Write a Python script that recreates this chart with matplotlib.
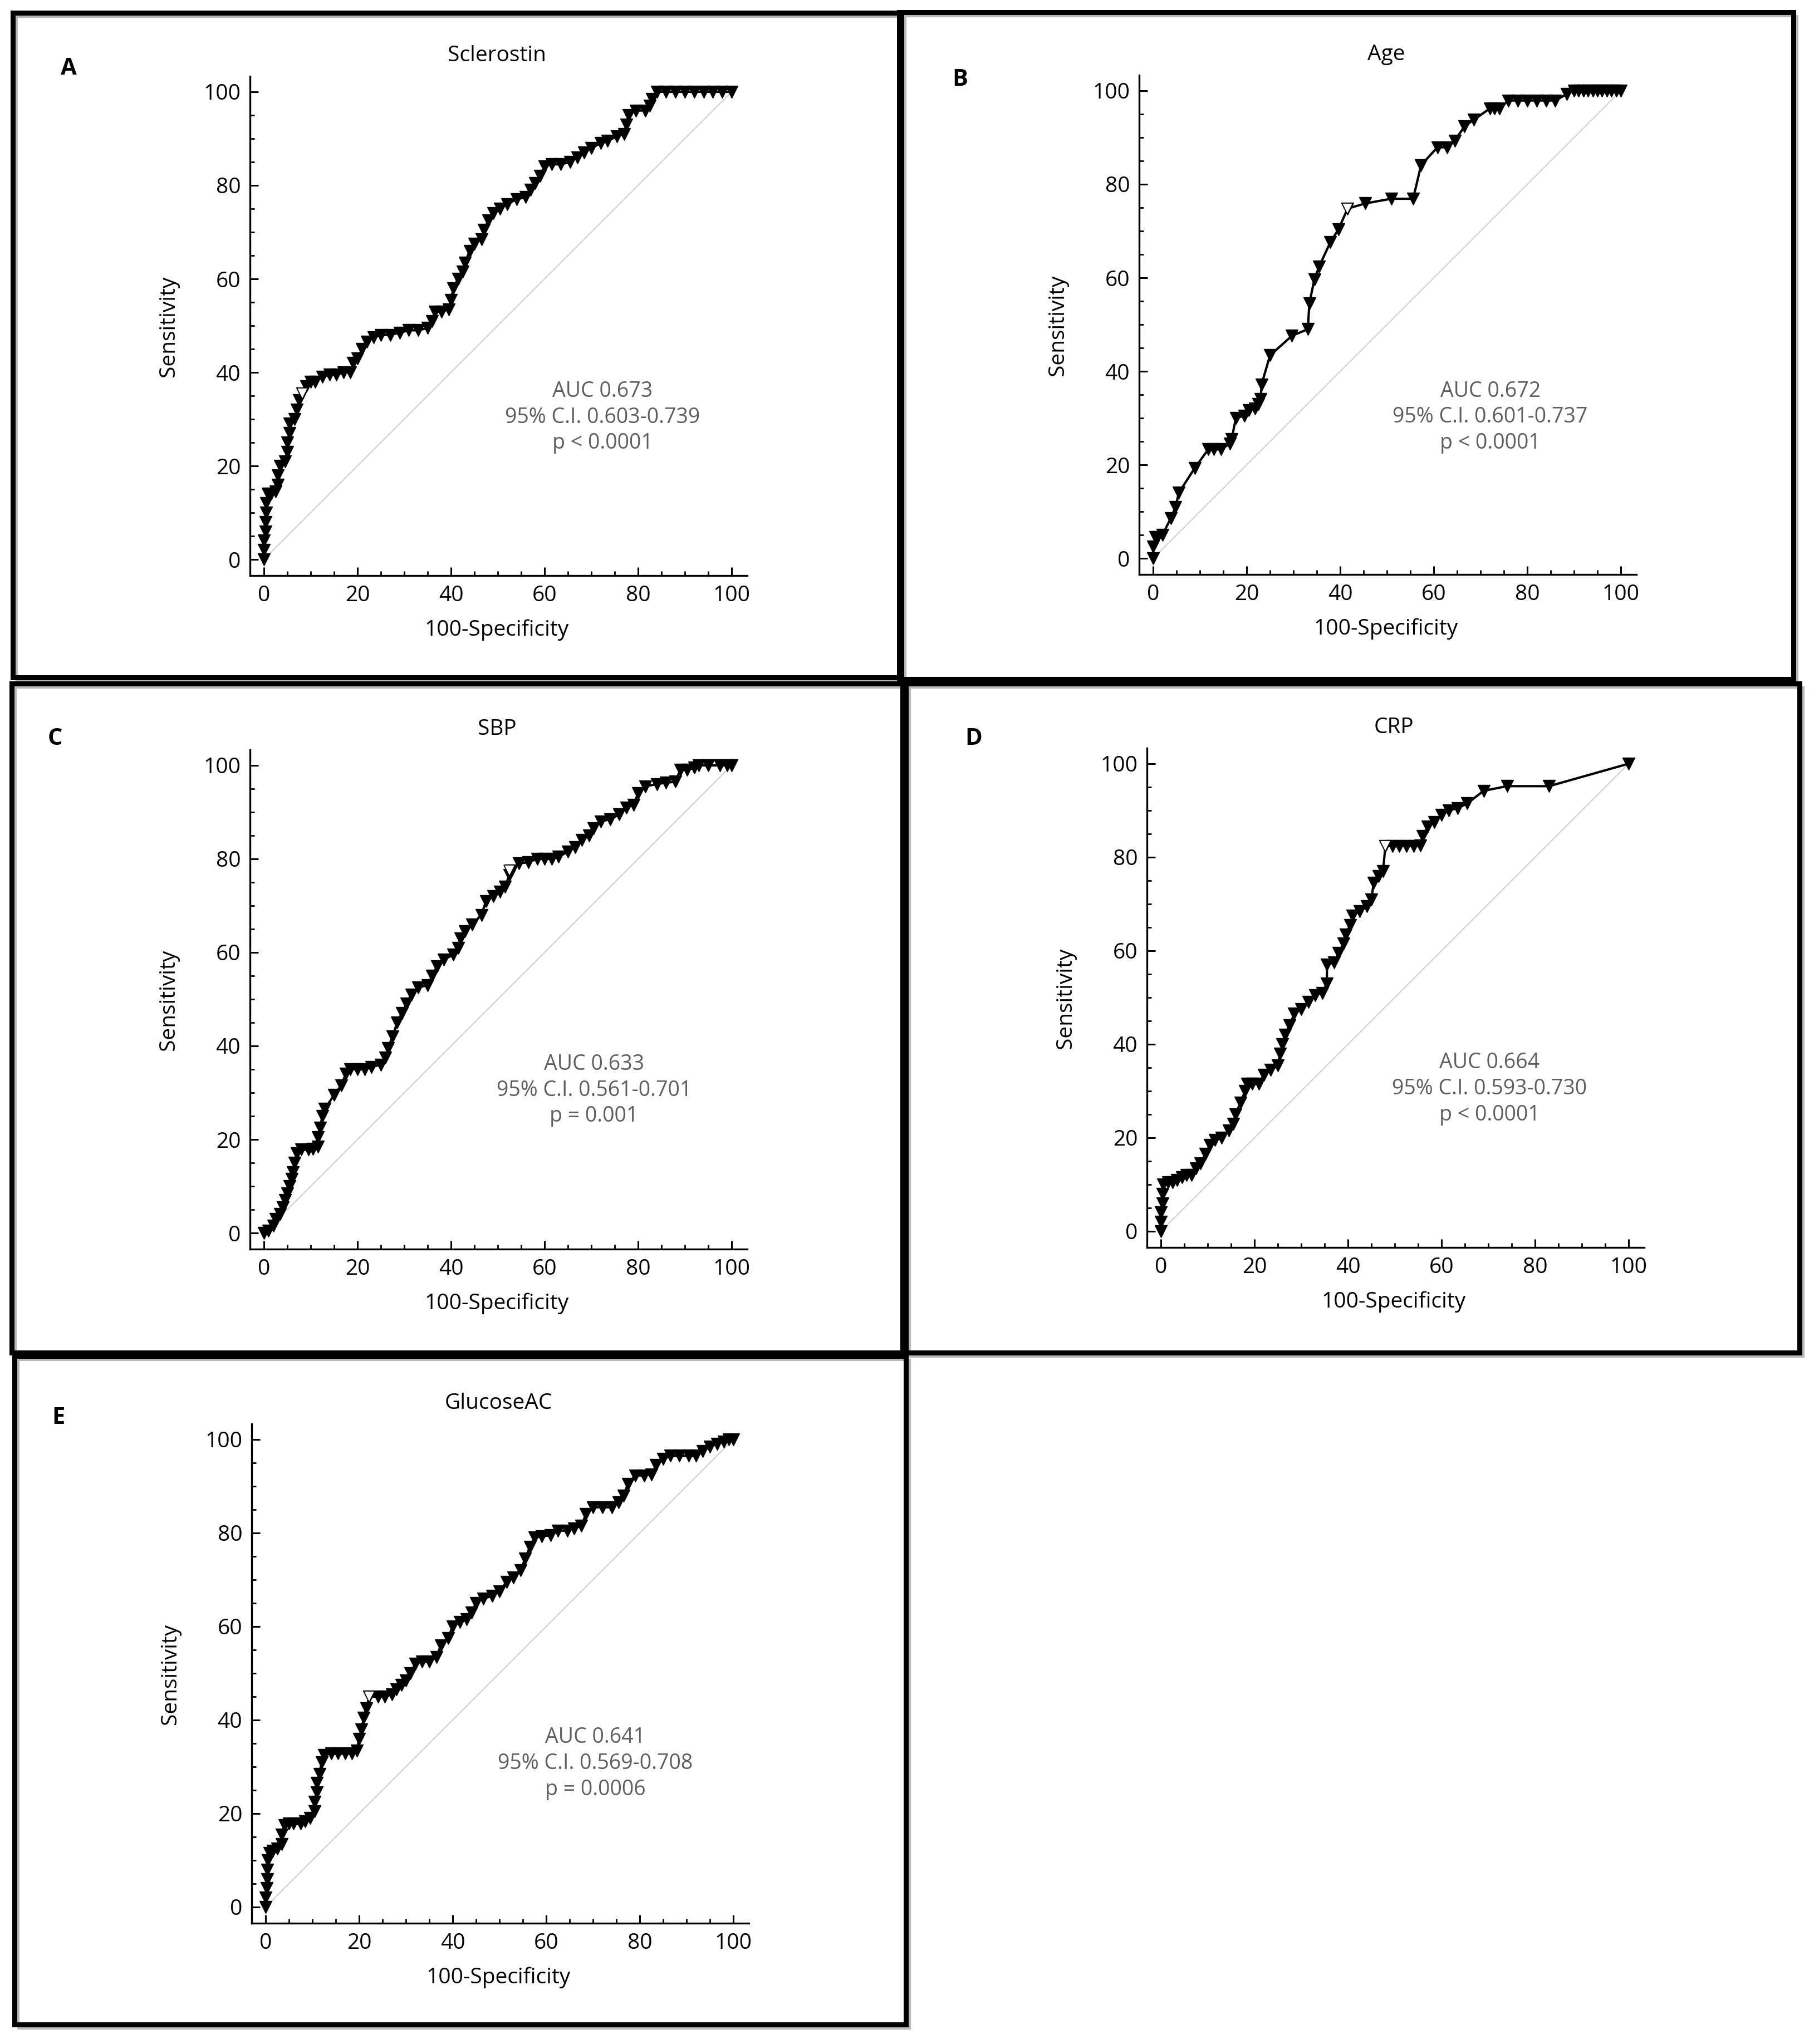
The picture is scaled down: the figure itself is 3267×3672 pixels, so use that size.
import matplotlib.pyplot as plt
from matplotlib.patches import Rectangle
from matplotlib.ticker import MultipleLocator

plt.rcParams['font.family'] = ['Open Sans', 'DejaVu Sans']

# ROC points (100-Specificity, Sensitivity)
sclerostin_pts = [(0, 0), (0, 2), (0, 4), (0.3, 6), (0.3, 8), (0.5, 10), (0.5, 12), (0.8, 14),
                  (1.5, 14), (2.5, 14.5), (3, 16), (3, 18), (3.5, 20), (4.5, 21), (5, 23), (5, 25),
                  (5.5, 27), (5.5, 29), (6.5, 30), (7, 32), (7.5, 34), (8.2, 35.5), (9, 37), (10, 38),
                  (11, 38), (12.5, 39), (14, 39.5), (15.5, 39.5), (17, 40), (18.5, 40), (19, 42),
                  (20, 43), (21, 45), (22, 46.5), (23.5, 47.5), (25, 48), (27, 48), (29, 48.5),
                  (31, 49), (33, 49), (35, 49.5), (36, 51), (36.5, 53), (38, 53), (39.5, 53.5),
                  (40, 55.5), (40.5, 58), (41.5, 60), (42.5, 61.5), (43, 63.5), (44, 66), (45, 67.5),
                  (46.5, 68.5), (47, 70.5), (48, 72.5), (49, 74), (50.5, 75), (52, 76), (54, 77),
                  (56, 77.5), (57, 79), (58, 80.5), (59, 82), (60, 84), (61.5, 84.5), (63.5, 84.5),
                  (65.5, 85), (67, 86), (68.5, 87), (70, 88), (72, 89), (73.5, 89.5), (75.5, 90.5),
                  (77, 91), (77.5, 93), (78, 95), (79.5, 96), (81.5, 96), (82.5, 97), (83, 98.5),
                  (84, 100), (86, 100), (88, 100), (90, 100), (92, 100), (94, 100), (96, 100),
                  (98, 100), (100, 100)]

age_pts = [(0, 0), (0, 2.5), (0.5, 4.5), (1, 4.5), (2, 5), (3.8, 8.6), (4.8, 11), (5.5, 14),
           (8.9, 19.3), (11.8, 23.3), (13, 23.3), (14.5, 23.3), (16.4, 24.5), (16.8, 25.5),
           (17.7, 30), (19.5, 30.5), (20.5, 31.7), (21.8, 32), (22.5, 33), (23, 34), (23.2, 37.2),
           (25, 43.4), (29.7, 47.6), (33.1, 49), (33.4, 54.5), (34.5, 59.7), (35.5, 62.4),
           (37.9, 67.6), (39.6, 70.3), (41.6, 74.8), (45.4, 75.9), (50.9, 76.9), (55.6, 76.9),
           (57.3, 84.1), (60.8, 87.9), (62.8, 87.9), (64.5, 89.3), (66.6, 92.4), (68.6, 93.8),
           (72, 96.2), (73, 96.2), (74, 96.2), (76, 97.9), (78, 97.9), (80, 97.9), (82, 97.9),
           (84, 97.9), (86, 97.9), (88.5, 99.3), (90, 100), (91, 100), (92, 100), (93, 100),
           (94, 100), (95, 100), (96, 100), (97, 100), (98, 100), (99, 100), (100, 100)]

sbp_pts = [(0, 0), (1, 0.5), (2, 1.5), (2.5, 3), (3.5, 4), (4, 5.5), (4.5, 7), (5, 8.5), (5.5, 10),
           (6, 11.5), (6.2, 13), (6.5, 15), (7, 17), (8, 17.8), (9.5, 17.8), (10.5, 18), (11.5, 18.5),
           (11.5, 20.5), (12, 22.5), (12.5, 25), (13, 26.5), (15, 29.5), (16.5, 31.5), (17.5, 34),
           (18.5, 35), (20, 35), (21.5, 35), (23, 35.5), (25, 36), (26, 37.5), (26.5, 39.5),
           (27.5, 42), (28.5, 45), (29.5, 47), (30.5, 49), (31.5, 51), (33, 52.5), (35, 53),
           (36, 55), (37, 57), (38.5, 58.5), (40.5, 59.5), (41.5, 61), (42, 63), (43, 64.5),
           (44.5, 66), (46.5, 68), (47.5, 71), (49, 72), (50.5, 73), (51.5, 74), (52.5, 76.5),
           (53, 77.5), (54.5, 79), (56.5, 79.3), (58.5, 80), (60, 80), (61.5, 80), (63, 80.5),
           (65, 81.5), (66.5, 82.5), (68, 84), (69.5, 85), (70.5, 86.5), (72, 88), (74, 88.5),
           (76, 89.5), (77.5, 91), (79, 91.5), (80, 94), (81.5, 95.5), (84, 96), (86, 96.3),
           (88, 96.5), (89, 99), (90.5, 99), (92, 99.5), (93, 100), (95, 100), (97.5, 100),
           (99, 100), (100, 100)]

crp_pts = [(0, 0), (0, 2), (0, 4), (0.3, 6), (0.3, 8), (0.5, 10), (1.5, 10.5), (2.5, 10.5),
           (3.5, 11), (4.5, 11.5), (5.5, 12), (6.5, 12), (7.5, 13.5), (8.5, 14.5), (9.5, 16.5),
           (10.5, 18.5), (11.5, 19.5), (13, 20), (14.5, 21.5), (15.5, 23), (16, 25), (17, 27.5),
           (18, 30), (18.5, 31.5), (19.5, 31.5), (21, 31.5), (22, 33.5), (23.5, 34.5), (25, 35.5),
           (25.5, 38), (26, 40), (26.5, 42), (27.5, 44), (28.5, 46.5), (30, 47.5), (31.5, 49),
           (33, 50.5), (34.5, 51), (35.5, 53), (35.5, 57), (37, 57.5), (38, 59.5), (39, 61.5),
           (39.5, 63.5), (40.5, 65.5), (41, 67.5), (42.5, 68.5), (44, 69.5), (45, 71), (45.5, 74.5),
           (46.5, 76), (47.5, 77), (48, 82.4), (49.5, 82.4), (51, 82.4), (52.5, 82.4), (54, 82.4),
           (55.5, 82.5), (56, 84.5), (57, 86.5), (58.5, 87.5), (60, 89), (61.5, 90), (63.5, 90.5),
           (65.5, 91.5), (69, 94.2), (74, 95.2), (83, 95.2), (100, 100)]

glucose_pts = [(0, 0), (0, 2), (0.2, 4), (0.3, 6), (0.3, 8), (0.5, 10), (0.8, 11.5), (1.5, 12),
               (2.5, 12.5), (3.5, 13.5), (3.5, 15.5), (4, 17.5), (5, 17.8), (6, 17.8), (7.5, 17.8),
               (8.5, 18.3), (9.5, 19), (10.5, 20.5), (10.5, 22.5), (11, 24.5), (11, 26.5),
               (11.5, 28.5), (12, 31), (12.5, 32.5), (14, 32.8), (15.5, 32.8), (17, 32.8),
               (18.5, 32.8), (19.5, 33.5), (20, 36), (20.5, 38), (21, 40.5), (21.5, 42.5),
               (22.2, 45), (24, 45), (25.5, 45), (27, 45.5), (28, 46.5), (29, 47.5), (30, 48.5),
               (31, 50), (32, 52), (33.5, 52.5), (35, 52.5), (36.5, 53.5), (37.5, 56), (39, 57.5),
               (40, 60), (41.5, 61), (43, 61.5), (44, 63), (45, 65), (46.5, 66), (48.5, 66.5),
               (50, 67.5), (51.5, 69.5), (53, 70.5), (54.5, 72), (55.5, 74.5), (56.5, 77),
               (57.5, 79), (59, 79.3), (61, 79.5), (62.5, 80.5), (64.5, 80.5), (66, 81),
               (67.5, 81.5), (68.5, 84), (70, 85.5), (72, 85.5), (74, 85.5), (75.5, 86.5),
               (76.5, 88), (77.5, 90.5), (79, 92.3), (81, 92.3), (82.5, 92.5), (83.5, 94.5),
               (85, 95.8), (86.5, 96.5), (88.5, 96.5), (90.5, 96.5), (92, 96.5), (93.5, 97.5),
               (95, 98.5), (96.5, 99), (98, 99.5), (99, 100), (100, 100)]

# optimal criterion (open marker)
cutoffs = [(8.2, 35.5), (41.6, 74.8), (52.5, 77.5), (48, 82.4), (22.2, 45)]

titles = ['Sclerostin', 'Age', 'SBP', 'CRP', 'GlucoseAC']
letters = ['A', 'B', 'C', 'D', 'E']
stats = ['AUC 0.673\n95% C.I. 0.603-0.739\np < 0.0001',
         'AUC 0.672\n95% C.I. 0.601-0.737\np < 0.0001',
         'AUC 0.633\n95% C.I. 0.561-0.701\np = 0.001',
         'AUC 0.664\n95% C.I. 0.593-0.730\np < 0.0001',
         'AUC 0.641\n95% C.I. 0.569-0.708\np = 0.0006']
stat_pos = [(72.4, 30.4), (72.1, 30.2), (70.6, 30.5), (70.3, 30.5), (70.5, 30.7)]
curves = [sclerostin_pts, age_pts, sbp_pts, crp_pts, glucose_pts]

# layout in pixels of the 3267x3672 canvas
W, H = 3267, 3672
origins = [(474, 1005), (2071, 1003), (474, 2215), (2085, 2212), (477, 3426)]
letter_xy = [(123, 124), (1724, 143), (99, 1327), (1749, 1327), (105, 2548)]
boxes = [(23, 23, 1619, 1217), (1615, 22, 3221, 1220), (21, 1228, 1621, 2430),
         (1627, 1228, 3232, 2430), (26, 2436, 1627, 3637)]
S = 8.4
XMIN, XMAX = -3, 103.3
YMIN, YMAX = -3.5, 103.3

fig = plt.figure(figsize=(W / 100, H / 100), dpi=100)
fig.patch.set_facecolor('white')

for (l, t, r, b) in boxes:
    fig.add_artist(Rectangle(((l + 7) / W, 1 - (b + 7) / H), (r - l) / W, (b - t) / H,
                             transform=fig.transFigure, fill=False, lw=3,
                             edgecolor='#b8b8b8', zorder=0))
    fig.add_artist(Rectangle((l / W, 1 - b / H), (r - l) / W, (b - t) / H,
                             transform=fig.transFigure, fill=False, lw=6.5,
                             edgecolor='black', zorder=1))

for i in range(5):
    x0, y0 = origins[i]
    left = x0 + XMIN * S
    right = x0 + XMAX * S
    bottom = y0 - YMIN * S
    top = y0 - YMAX * S
    ax = fig.add_axes([left / W, 1 - bottom / H, (right - left) / W, (bottom - top) / H])
    ax.set_facecolor('none')

    ax.plot([0, 100], [0, 100], color='#d2d2d2', lw=1.6, zorder=1)
    xs, ys = zip(*curves[i])
    ax.plot(xs, ys, color='black', lw=3, marker='v', markersize=16,
            markerfacecolor='black', markeredgecolor='black', zorder=3)
    cx, cy = cutoffs[i]
    ax.plot([cx], [cy], marker='v', markersize=14, markerfacecolor='white',
            markeredgecolor='black', markeredgewidth=1.2, linestyle='none', zorder=4)

    ax.set_xlim(XMIN, XMAX)
    ax.set_ylim(YMIN, YMAX)
    ax.set_xticks(range(0, 101, 20))
    ax.set_yticks(range(0, 101, 20))
    ax.xaxis.set_minor_locator(MultipleLocator(5))
    ax.yaxis.set_minor_locator(MultipleLocator(5))
    ax.tick_params(which='major', direction='in', length=11, width=2.2, labelsize=28, pad=12)
    ax.tick_params(which='minor', direction='in', length=6, width=2)
    for side in ['top', 'right']:
        ax.spines[side].set_visible(False)
    for side in ['left', 'bottom']:
        ax.spines[side].set_linewidth(2.4)

    ax.text(0.496, -0.108, '100-Specificity', transform=ax.transAxes,
            ha='center', va='center', fontsize=28)
    ax.text(-0.163, 0.5, 'Sensitivity', transform=ax.transAxes, rotation=90,
            ha='center', va='center', fontsize=28)
    ax.text(0.497, 1.042, titles[i], transform=ax.transAxes,
            ha='center', va='center', fontsize=28)
    sx, sy = stat_pos[i]
    ax.text(sx, sy, stats[i], ha='center', va='center', fontsize=27,
            color='#5e5e5e', linespacing=1.3)

    lx, ly = letter_xy[i]
    fig.text(lx / W, 1 - ly / H, letters[i], ha='center', va='center',
             fontsize=30, fontweight='bold')

fig.savefig('out.png', dpi=100, facecolor='white')
